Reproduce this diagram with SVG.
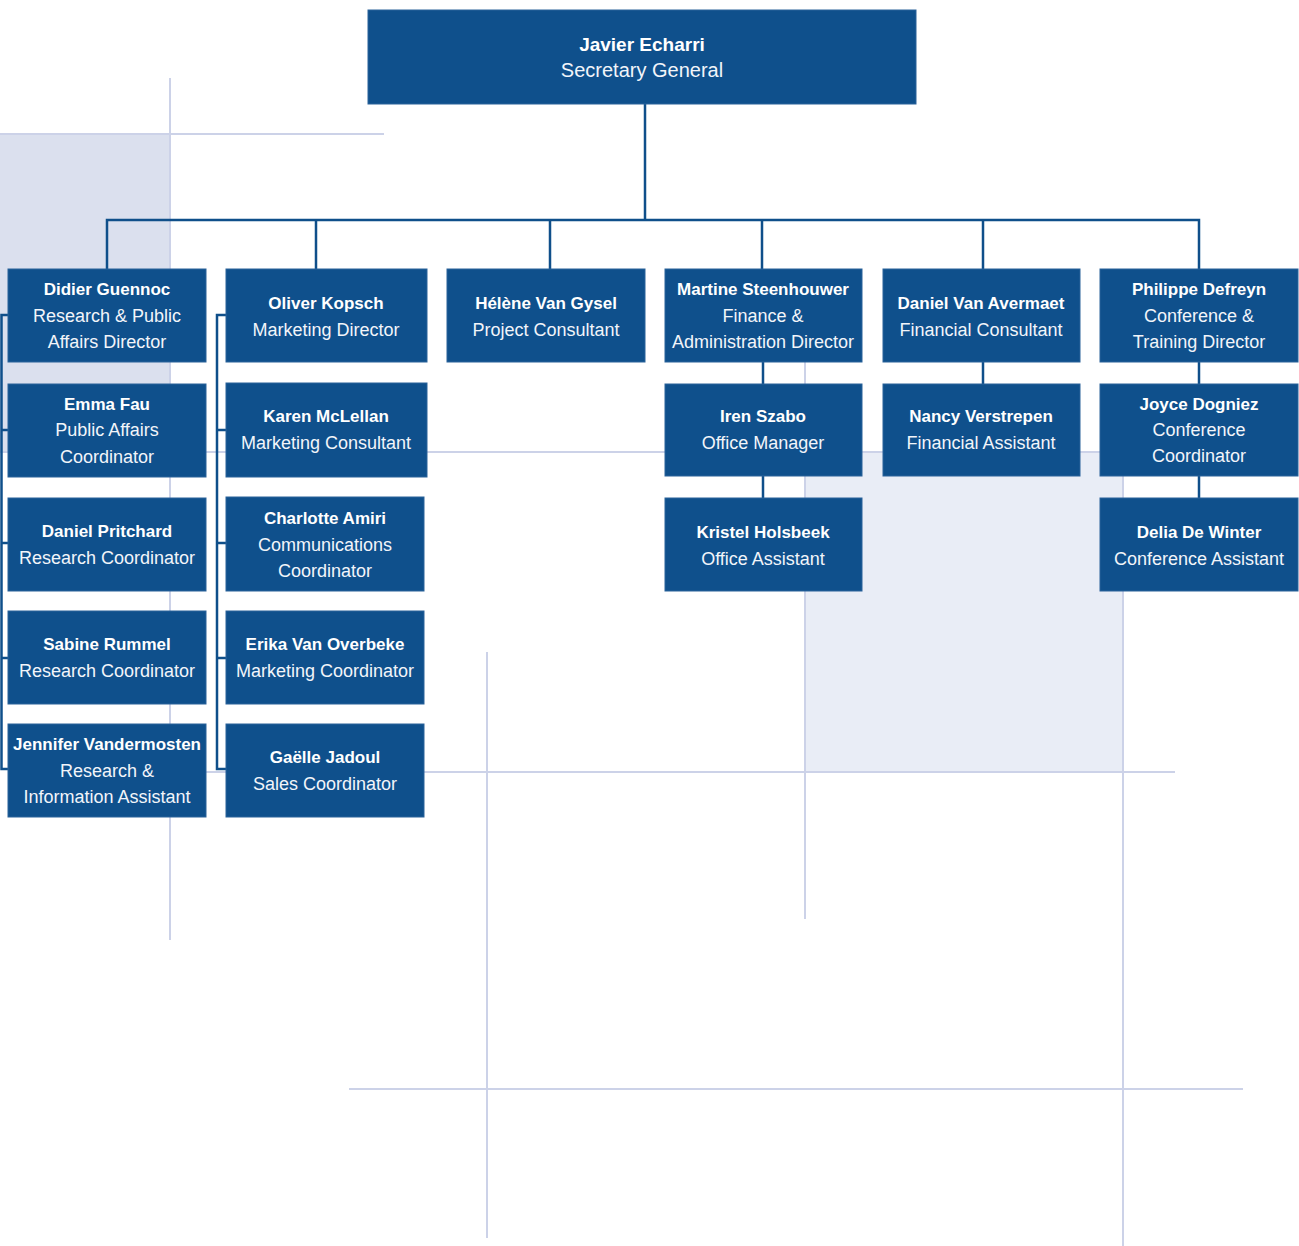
<svg xmlns="http://www.w3.org/2000/svg" width="1299" height="1246" viewBox="0 0 1299 1246">
<style>
.box{fill:#0f508c;stroke:#2a629a;stroke-width:1}
.nm{font-family:"Liberation Sans",Arial,sans-serif;font-weight:bold;font-size:17px;fill:#ffffff;text-anchor:middle}
.tt{font-family:"Liberation Sans",Arial,sans-serif;font-size:18px;fill:#f2f5fa;text-anchor:middle}
.bg{stroke:#ccd2e8;stroke-width:2;fill:none}
.cn{stroke:#0f4f8a;stroke-width:2.5;fill:none}
</style>
<rect width="1299" height="1246" fill="#ffffff"/>
<g id="background">
<rect x="0" y="134" width="170" height="318" fill="#dbe0ee"/>
<rect x="805" y="452" width="318" height="320" fill="#e9edf6"/>
<line class="bg" x1="0" y1="134" x2="384" y2="134"/>
<line class="bg" x1="170" y1="78" x2="170" y2="940"/>
<line class="bg" x1="0" y1="452" x2="1123" y2="452"/>
<line class="bg" x1="170" y1="772" x2="1175" y2="772"/>
<line class="bg" x1="805" y1="280" x2="805" y2="919"/>
<line class="bg" x1="1123" y1="452" x2="1123" y2="1246"/>
<line class="bg" x1="487" y1="652" x2="487" y2="1238"/>
<line class="bg" x1="349" y1="1089" x2="1243" y2="1089"/>
</g>
<g id="connectors">
<polyline class="cn" points="645,104 645,220"/>
<polyline class="cn" points="107,269 107,220 1199,220 1199,269"/>
<line class="cn" x1="316" y1="220" x2="316" y2="269"/>
<line class="cn" x1="550" y1="220" x2="550" y2="269"/>
<line class="cn" x1="762" y1="220" x2="762" y2="269"/>
<line class="cn" x1="983" y1="220" x2="983" y2="269"/>
<line class="cn" x1="763" y1="362" x2="763" y2="384"/>
<line class="cn" x1="763" y1="476" x2="763" y2="498"/>
<line class="cn" x1="983" y1="362" x2="983" y2="384"/>
<line class="cn" x1="1199" y1="362" x2="1199" y2="384"/>
<line class="cn" x1="1199" y1="476" x2="1199" y2="498"/>
<polyline class="cn" points="8,315 1.5,315 1.5,769 8,769"/>
<line class="cn" x1="1.5" y1="430" x2="8" y2="430"/>
<line class="cn" x1="1.5" y1="543" x2="8" y2="543"/>
<line class="cn" x1="1.5" y1="658" x2="8" y2="658"/>
<polyline class="cn" points="226,315 217,315 217,769 226,769"/>
<line class="cn" x1="217" y1="430" x2="226" y2="430"/>
<line class="cn" x1="217" y1="543" x2="226" y2="543"/>
<line class="cn" x1="217" y1="658" x2="226" y2="658"/>
</g>
<g id="n-echarri"><rect class="box" x="368" y="10" width="548" height="94"/>
<text class="nm" x="642" y="51" style="font-size:19px">Javier Echarri</text><text class="tt" x="642" y="77" style="font-size:20px">Secretary General</text></g>
<g id="n-guennoc"><rect class="box" x="8" y="269" width="198" height="93"/>
<text class="nm" x="107" y="295">Didier Guennoc</text><text class="tt" x="107" y="322">Research &amp; Public</text><text class="tt" x="107" y="348">Affairs Director</text></g>
<g id="n-fau"><rect class="box" x="8" y="384" width="198" height="93"/>
<text class="nm" x="107" y="410">Emma Fau</text><text class="tt" x="107" y="436">Public Affairs</text><text class="tt" x="107" y="463">Coordinator</text></g>
<g id="n-pritchard"><rect class="box" x="8" y="498" width="198" height="93"/>
<text class="nm" x="107" y="537">Daniel Pritchard</text><text class="tt" x="107" y="564">Research Coordinator</text></g>
<g id="n-rummel"><rect class="box" x="8" y="611" width="198" height="93"/>
<text class="nm" x="107" y="650">Sabine Rummel</text><text class="tt" x="107" y="677">Research Coordinator</text></g>
<g id="n-vandermosten"><rect class="box" x="8" y="724" width="198" height="93"/>
<text class="nm" x="107" y="750">Jennifer Vandermosten</text><text class="tt" x="107" y="777">Research &amp;</text><text class="tt" x="107" y="803">Information Assistant</text></g>
<g id="n-kopsch"><rect class="box" x="226" y="269" width="201" height="93"/>
<text class="nm" x="326" y="309">Oliver Kopsch</text><text class="tt" x="326" y="336">Marketing Director</text></g>
<g id="n-mclellan"><rect class="box" x="226" y="383" width="201" height="94"/>
<text class="nm" x="326" y="422">Karen McLellan</text><text class="tt" x="326" y="449">Marketing Consultant</text></g>
<g id="n-amiri"><rect class="box" x="226" y="497" width="198" height="94"/>
<text class="nm" x="325" y="524">Charlotte Amiri</text><text class="tt" x="325" y="551">Communications</text><text class="tt" x="325" y="577">Coordinator</text></g>
<g id="n-overbeke"><rect class="box" x="226" y="611" width="198" height="93"/>
<text class="nm" x="325" y="650">Erika Van Overbeke</text><text class="tt" x="325" y="677">Marketing Coordinator</text></g>
<g id="n-jadoul"><rect class="box" x="226" y="724" width="198" height="93"/>
<text class="nm" x="325" y="763">Gaëlle Jadoul</text><text class="tt" x="325" y="790">Sales Coordinator</text></g>
<g id="n-vangysel"><rect class="box" x="447" y="269" width="198" height="93"/>
<text class="nm" x="546" y="309">Hélène Van Gysel</text><text class="tt" x="546" y="336">Project Consultant</text></g>
<g id="n-steenhouwer"><rect class="box" x="665" y="269" width="197" height="93"/>
<text class="nm" x="763" y="295">Martine Steenhouwer</text><text class="tt" x="763" y="322">Finance &amp;</text><text class="tt" x="763" y="348">Administration Director</text></g>
<g id="n-szabo"><rect class="box" x="665" y="384" width="197" height="92"/>
<text class="nm" x="763" y="422">Iren Szabo</text><text class="tt" x="763" y="449">Office Manager</text></g>
<g id="n-holsbeek"><rect class="box" x="665" y="498" width="197" height="93"/>
<text class="nm" x="763" y="538">Kristel Holsbeek</text><text class="tt" x="763" y="565">Office Assistant</text></g>
<g id="n-vanavermaet"><rect class="box" x="883" y="269" width="197" height="93"/>
<text class="nm" x="981" y="309">Daniel Van Avermaet</text><text class="tt" x="981" y="336">Financial Consultant</text></g>
<g id="n-verstrepen"><rect class="box" x="883" y="384" width="197" height="92"/>
<text class="nm" x="981" y="422">Nancy Verstrepen</text><text class="tt" x="981" y="449">Financial Assistant</text></g>
<g id="n-defreyn"><rect class="box" x="1100" y="269" width="198" height="93"/>
<text class="nm" x="1199" y="295">Philippe Defreyn</text><text class="tt" x="1199" y="322">Conference &amp;</text><text class="tt" x="1199" y="348">Training Director</text></g>
<g id="n-dogniez"><rect class="box" x="1100" y="384" width="198" height="92"/>
<text class="nm" x="1199" y="410">Joyce Dogniez</text><text class="tt" x="1199" y="436">Conference</text><text class="tt" x="1199" y="462">Coordinator</text></g>
<g id="n-dewinter"><rect class="box" x="1100" y="498" width="198" height="93"/>
<text class="nm" x="1199" y="538">Delia De Winter</text><text class="tt" x="1199" y="565">Conference Assistant</text></g>
</svg>
